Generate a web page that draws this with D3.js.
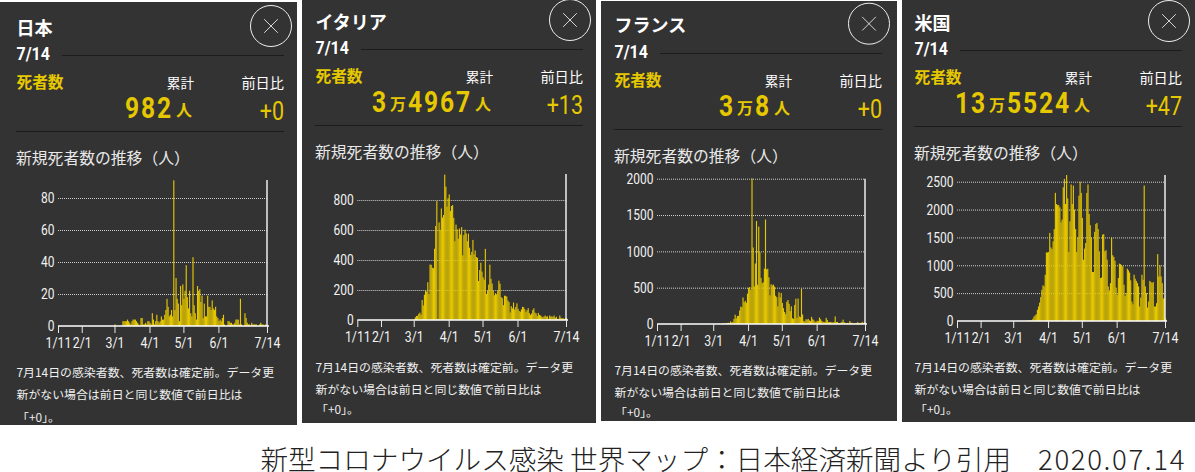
<!DOCTYPE html>
<html><head><meta charset="utf-8">
<script src="https://cdn.jsdelivr.net/npm/d3@7/dist/d3.min.js"></script>
<style>
html,body{margin:0;padding:0;background:#fff;overflow:hidden}
svg{display:block}
text{font-family:"Noto Sans CJK JP","Noto Sans",sans-serif}
</style></head><body>
<svg id="c" width="1195" height="472"></svg>
<script>
const countries = ["日本","イタリア","フランス","米国"];
const dateLabel = "7/14";
const totals = [[["982",0]],[["3",0],["万",1],["4967",0]],[["3",0],["万",1],["8",0]],[["13",0],["万",1],["5524",0]]];
const dayChange = ["+0","+13","+0","+47"];
const tickDates = ["2020-01-11","2020-02-01","2020-03-01","2020-04-01","2020-05-01","2020-06-01","2020-07-14"];
const tickLabels = ["1/11","2/1","3/1","4/1","5/1","6/1","7/14"];
const yTicks = [[0,20,40,60,80],[0,200,400,600,800],[0,500,1000,1500,2000],[0,500,1000,1500,2000,2500]];
const noteLines = ["7月14日の感染者数、死者数は確定前。データ更","新がない場合は前日と同じ数値で前日比は","「+0」。"];
const captionMain = "新型コロナウイルス感染 世界マップ：日本経済新聞より引用";
const captionDate = "2020.07.14";
const firstDay = "2020-03-01";

const japanDaily = [
 1,0,0,0,0,0,0,3,3,3,3,4,3,2,1,3,4,4,4,3,2,1,0,5,5,1,1,2,1,3,3,
 2,1,8,4,1,3,7,3,2,3,6,4,4,7,10,17,12,6,7,10,6,91,10,30,17,14,3,25,13,26,
 17,22,38,18,11,22,8,6,43,13,8,4,25,22,23,15,19,5,14,6,6,19,12,12,10,16,11,10,12,6,5,
 3,4,3,5,7,1,0,0,3,3,2,2,1,1,2,4,4,4,1,17,1,0,0,8,5,2,1,1,0,2,
 1,1,1,1,0,0,1,2,1,1,0,1,0,0];
const italyDaily = [
 5,18,27,28,41,49,36,133,97,168,196,189,252,173,370,368,349,345,475,627,793,8,651,601,743,683,700,969,889,756,812,
 837,727,760,766,681,525,636,604,542,610,570,619,431,566,602,578,525,575,482,433,454,534,437,464,420,415,260,333,382,323,
 285,269,474,174,195,236,369,274,243,194,165,179,172,195,262,242,153,145,99,162,161,156,130,119,50,92,78,117,70,87,111,
 75,60,55,71,88,85,72,53,65,79,47,34,43,66,78,49,44,26,47,34,30,23,18,23,30,22,25,8,30,23,
 24,21,30,15,21,7,8,30,15,12,12,7,13,13];
const franceDaily = [
 0,0,1,0,2,2,0,3,9,11,3,15,13,18,12,36,21,27,69,128,78,112,112,186,240,231,365,299,319,292,418,
 499,509,471,2004,1053,518,833,1417,541,1341,987,635,561,574,762,1438,753,761,642,395,547,531,544,516,389,369,242,437,367,427,
 289,218,166,135,306,330,278,178,243,80,70,263,348,83,351,104,96,483,131,43,35,65,60,70,50,40,98,66,52,31,31,
 45,40,90,66,44,31,30,28,85,54,23,27,28,24,20,30,105,28,28,14,14,20,30,60,25,14,10,15,10,40,
 20,15,10,8,10,12,25,15,15,10,30,15,25,15];
const usDaily = [
 1,1,2,2,1,1,2,1,4,3,4,4,7,5,10,10,16,40,80,100,120,200,260,330,430,560,640,620,830,1230,1230,
 1240,1580,1320,1290,1430,1650,2300,2100,2080,2080,2040,1770,1820,2400,2550,2100,2620,2200,1240,1790,2450,2100,2430,2000,1650,1240,1500,2250,2500,2300,
 1850,1100,1300,1400,2300,2450,1920,1720,1500,880,880,1600,1740,1760,1650,1250,770,780,1550,1560,1250,1270,1100,620,550,680,1500,1180,1150,1080,600,
 470,770,1030,1020,1000,980,650,450,500,940,910,870,730,350,300,830,760,720,680,620,260,420,830,740,2430,620,500,240,350,720,
 700,680,700,260,260,320,1200,800,1000,800,680,400,420,50];
const seriesList = [japanDaily,italyDaily,franceDaily,usDaily];

// layout
const W=[297,294,296,293], frameX=[0,302,601,902], frameTop=[2,0,1,0], frameBottom=[425,423,421,422];
const dx=[0,299,598,898], dy=[0,-6,-2,-5], titleDy=[0,-6,-3,-5];
const axisL=[58,357.3,657,957], axisLen=[209,208.7,208,208];
const base=[326,320,324,321], topTickY=[198,200,178.7,181.7], lineTop=[180,174,178.7,175];
const noteY=[[371,393,416],[366,388,408],[369,391,411],[366,388,408]];
const closeC=[[271,26],[570,20],[869,23.7],[1169,21]];
const YEL="#e6c800", BG="#333333", NUM="Roboto,sans-serif";

const parse=d3.utcParse("%Y-%m-%d");
const svg=d3.select("#c");

countries.forEach((name,i)=>{
  const g=svg.append("g");
  g.append("rect").attr("x",frameX[i]).attr("y",frameTop[i]).attr("width",W[i]).attr("height",frameBottom[i]-frameTop[i]).attr("fill",BG);
  const X=dx[i],D=dy[i];
  const t=(s,x,y,size,fill,anchor,weight)=>g.append("text").attr("x",x).attr("y",y).attr("font-size",size).attr("fill",fill)
      .attr("text-anchor",anchor||"start").attr("font-weight",weight||400).attr("dominant-baseline","central").text(s);
  // condensed digits: horizontally squeezed Roboto
  const n=(s,x,y,size,fill,anchor,weight,sx)=>g.append("text").attr("transform",`translate(${x},${y}) scale(${sx},1)`)
      .attr("font-size",size).attr("fill",fill).attr("text-anchor",anchor||"start").attr("font-weight",weight||400)
      .attr("dominant-baseline","central").style("font-family",NUM).text(s);
  t(name,X+16.5,27+titleDy[i],18,"#fff","start",700);
  n(dateLabel,X+16.5,54+D,19,"#fff","start",700,0.84);
  g.append("line").attr("x1",X+62).attr("x2",X+284).attr("y1",55.5+D).attr("y2",55.5+D).attr("stroke","#1c1c1c");
  t("死者数",X+16.5,81+D,15.7,YEL,"start",700);
  t("累計",X+194,82+D,13.6,"#fff","end");
  t("前日比",X+284,82+D,14.2,"#fff","end");

  // big total, laid out right to left
  let cursor=X+192;
  const yb=108+D;
  cursor-=t("人",cursor,yb+1,16,YEL,"end",700).node().getComputedTextLength()+3;
  totals[i].slice().reverse().forEach(([s,small])=>{
    if(small){
      cursor-=t(s,cursor-2,yb+1,16,YEL,"end",700).node().getComputedTextLength()+4;
    }else{
      const el=n(s,cursor,yb,30,YEL,"end",700,0.82).attr("letter-spacing",2.3);
      cursor-=el.node().getComputedTextLength()*0.82;
    }
  });
  n(dayChange[i],X+284,111+D,25,YEL,"end",400,0.86);
  g.append("line").attr("x1",X+16).attr("x2",X+284).attr("y1",131.5+D).attr("y2",131.5+D).attr("stroke","#1c1c1c");
  t("新規死者数の推移（人）",X+16,157+D,15.8,"#e8e8e8");

  // close button
  const [cx,cy]=closeC[i];
  g.append("circle").attr("cx",cx).attr("cy",cy).attr("r",20.5).attr("fill","none").attr("stroke","#eee").attr("stroke-width",1);
  g.append("path").attr("d",`M${cx-6.8},${cy-6.8}L${cx+6.8},${cy+6.8}M${cx+6.8},${cy-6.8}L${cx-6.8},${cy+6.8}`).attr("stroke","#fff").attr("stroke-width",0.8);

  // chart
  const chart=g.append("g").attr("transform",`translate(${axisL[i]},0)`);
  const x=d3.scaleUtc().domain([parse(tickDates[0]),parse(tickDates[6])]).range([0,axisLen[i]]);
  const ticks=yTicks[i], yMax=d3.max(ticks);
  const y=d3.scaleLinear().domain([0,yMax]).range([base[i],topTickY[i]]);
  const yAxis=chart.append("g").call(d3.axisLeft(y).tickValues(ticks).tickFormat(d3.format("d")).tickSize(-axisLen[i]).tickPadding(0));
  yAxis.select(".domain").remove();
  yAxis.selectAll("line").attr("stroke","#cfcfcf").attr("stroke-dasharray","1 1").attr("stroke-width",1);
  yAxis.selectAll(".tick").filter(d=>d===0).select("line").remove();
  yAxis.selectAll("text").attr("fill","#f2f2f2").attr("font-size",15).attr("x",0)
    .attr("transform","translate(-3.5,0) scale(0.8,1)").style("font-family",NUM);

  const start=parse(firstDay);
  chart.append("g").selectAll("rect").data(seriesList[i]).join("rect")
    .attr("x",(d,k)=>x(d3.utcDay.offset(start,k)))
    .attr("width",(d,k)=>x(d3.utcDay.offset(start,k+1))-x(d3.utcDay.offset(start,k)))
    .attr("y",d=>y(d)).attr("height",d=>base[i]-y(d))
    .attr("fill",YEL);

  chart.append("line").attr("x1",axisLen[i]).attr("x2",axisLen[i]).attr("y1",lineTop[i]).attr("y2",base[i]).attr("stroke","#eee").attr("stroke-width",1.5);

  const xAxis=chart.append("g").attr("transform",`translate(0,${base[i]})`)
    .call(d3.axisBottom(x).tickValues(tickDates.map(parse)).tickSize(7).tickPadding(4).tickFormat((d,k)=>tickLabels[k]));
  xAxis.select(".domain").attr("stroke","#fff").attr("stroke-width",1.5).attr("d",`M0,0H${axisLen[i]+2}`);
  xAxis.selectAll("line").attr("stroke","#e8e8e8");
  xAxis.selectAll("text").attr("fill","#f2f2f2").attr("font-size",15)
    .attr("transform","scale(0.82,1)").style("font-family",NUM);

  noteLines.forEach((s,k)=>t(s,X+(k==2?17:16.5),noteY[i][k],11.9,"#f0f0f0","start",400));
});

const capText=(s,x,size)=>svg.append("text").attr("x",x).attr("y",458).attr("text-anchor","end").attr("dominant-baseline","central")
  .attr("font-size",size).attr("font-weight",300).attr("fill","#222").text(s);
capText(captionMain,1011,27.6);
capText(captionDate,1186,27.6).attr("letter-spacing",1.6);
</script>
</body></html>
